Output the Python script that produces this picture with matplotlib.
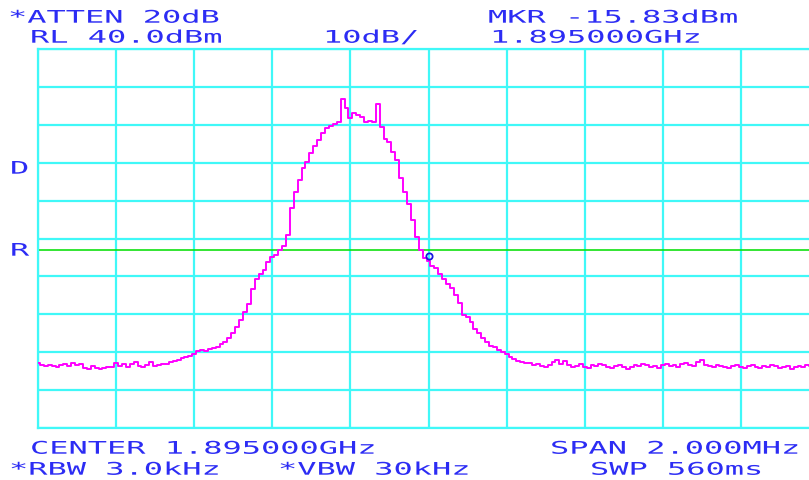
import numpy as np
import matplotlib
matplotlib.use("Agg")
import matplotlib.pyplot as plt
import matplotlib.patheffects as pe
from matplotlib.transforms import Affine2D

# Sweep settings
center_ghz = 1.895
span_ghz = 0.002
ref_level = 40.0
db_per_div = 10.0
display_line = -13.0
marker_freq = 1.895
marker_level = -15.83

# Trace, one reading per sweep bin (dBm)
trace_dbm = [
    -42.9, -43.4, -43.7, -43.4, -43.7, -43.9, -43.4, -43.1, -43.7, -42.9,
    -43.4, -43.1, -44.2, -44.4, -43.7, -44.2, -44.4, -44.2, -43.9, -43.9,
    -42.9, -43.7, -43.1, -43.9, -43.1, -42.6, -43.7, -43.9, -43.4, -42.6,
    -43.7, -43.4, -43.1, -43.1, -42.6, -42.3, -42.1, -41.5, -41.3, -41.0,
    -40.5, -39.7, -39.4, -39.7, -39.2, -38.9, -38.6, -37.8, -37.3, -36.3,
    -34.9, -33.4, -31.5, -29.4, -27.3, -23.3, -20.7, -19.4, -18.3, -16.2,
    -14.9, -14.4, -13.0, -12.0, -9.0, -2.0, 2.3, 5.4, 8.6, 10.2,
    12.6, 14.4, 16.0, 17.8, 19.2, 19.7, 20.2, 20.7, 26.8, 24.4,
    21.8, 23.1, 22.6, 22.1, 20.7, 21.0, 20.7, 25.6, 19.4, 16.2,
    15.5, 12.8, 10.7, 6.0, 2.3, -0.9, -5.1, -9.6, -13.0, -15.2,
    -15.83, -17.3, -17.8, -19.4, -20.7, -22.0, -23.1, -24.9, -27.0, -30.2,
    -30.7, -32.0, -33.9, -34.9, -36.3, -37.3, -38.4, -38.6, -39.4, -40.0,
    -40.5, -41.3, -41.8, -42.3, -42.6, -42.9,
    -42.9, -43.4, -43.1, -43.7, -43.9, -43.4, -42.6, -42.1, -43.1, -42.3,
    -43.4, -43.9, -43.7, -43.1, -43.9, -44.2, -43.4, -43.7, -43.1, -43.4,
    -43.9, -44.2, -43.7, -43.4, -43.9, -44.4, -43.9, -43.4, -43.7, -43.1,
    -43.4, -43.9, -43.7, -44.2, -43.4, -43.1, -43.7, -43.4, -43.9, -43.1,
    -42.9, -43.4, -43.7, -42.6, -42.1, -43.4, -43.7, -43.9, -43.4, -43.7,
    -43.9, -44.2, -43.7, -43.4, -43.9, -44.2, -43.7, -43.4, -43.9, -44.2,
    -43.7, -43.9, -43.4, -43.7, -44.2, -43.9, -43.7, -44.4, -43.9, -43.7,
    -43.9, -43.4, -43.7, -43.9, -43.7,
]

# Annotation rows: (text, left px, cap-top px)
header_texts = [
    ("*ATTEN 20dB", 8, 10),
    ("RL 40.0dBm", 30, 30),
    ("10dB/", 323, 30),
    ("MKR -15.83dBm", 488, 10),
    ("1.895000GHz", 490, 30),
    ("CENTER 1.895000GHz", 30, 441),
    ("SPAN 2.000MHz", 550, 441),
    ("*RBW 3.0kHz", 9, 462),
    ("*VBW 30kHz", 278, 462),
    ("SWP 560ms", 590, 462),
    ("D", 10, 161),
    ("R", 10, 243),
]

W, H = 809, 480
GRID = "#40F8F8"
TRACE = "#FF00FF"
LABEL = "#2C2CF4"


class HStretch(pe.AbstractPathEffect):
    """Widen glyph outlines horizontally about the text origin."""

    def __init__(self, sx):
        super().__init__()
        self._sx = sx

    def draw_path(self, renderer, gc, tpath, affine, rgbFace=None):
        renderer.draw_path(gc, tpath, Affine2D().scale(self._sx, 1.0) + affine, rgbFace)


fig = plt.figure(figsize=(W / 100, H / 100), dpi=100)
fig.patch.set_facecolor("white")

# Graticule: 10 divisions each way, right edge runs past the canvas
left_px, top_px, bottom_px, div_px = 38, 49, 428, 78.1
ax = fig.add_axes([left_px / W, (H - bottom_px) / H,
                   10 * div_px / W, (bottom_px - top_px) / H])

freqs = np.linspace(center_ghz - span_ghz / 2, center_ghz + span_ghz / 2, len(trace_dbm))
bottom_level = ref_level - 10 * db_per_div

ax.set_xlim(freqs[0], freqs[-1])
ax.set_ylim(bottom_level, ref_level)
ax.set_xticks(np.linspace(freqs[0], freqs[-1], 11))
ax.set_yticks(np.arange(bottom_level, ref_level + 1, db_per_div))
ax.tick_params(length=0, labelbottom=False, labelleft=False)
ax.grid(True, color=GRID, linewidth=1.6)
ax.set_axisbelow(True)
for s in ax.spines.values():
    s.set_color(GRID)
    s.set_linewidth(1.6)

ax.axhline(display_line, color="#10E010", linewidth=1.2, zorder=2)
ax.plot(freqs, trace_dbm, color=TRACE, linewidth=1.4, drawstyle="steps-mid", zorder=3)
ax.plot([marker_freq], [marker_level + 1.2], marker="o", markersize=4.5,
        markerfacecolor="none", markeredgecolor="#1818E0", markeredgewidth=1.3,
        linestyle="none", zorder=4)

# Instrument annotations in a widened monospace face
cap_px = 12.7
em_px = cap_px / 0.729
fsize = em_px * 72 / 100
stretch = 19.25 / (0.602 * em_px)
for txt, x_px, top in header_texts:
    fig.text(x_px / W, 1 - (top + cap_px) / H, txt, ha="left", va="baseline",
             family="DejaVu Sans Mono", fontsize=fsize, color=LABEL,
             path_effects=[HStretch(stretch)])

fig.savefig("out.png", dpi=100, facecolor="white")
